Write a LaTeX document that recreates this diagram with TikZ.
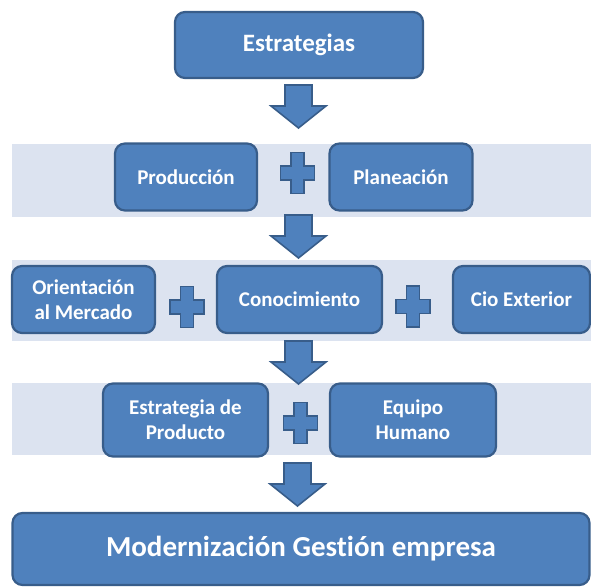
\documentclass[tikz,border=0pt]{standalone}
\usepackage{fontspec}
\setmainfont[Ligatures=NoCommon]{Carlito}
\definecolor{boxblue}{HTML}{4F81BD}
\definecolor{boxborder}{HTML}{385D8A}
\definecolor{bandfill}{HTML}{DCE3F0}
\tikzset{
  box/.style={rounded corners=10pt, fill=boxblue, draw=boxborder, line width=2.2pt,
    text=white, align=center, inner sep=0pt,
    font=\bfseries\fontsize{21}{25}\selectfont},
  band/.style={fill=bandfill, draw=none},
  blockshape/.style={fill=boxblue, draw=boxborder, line width=1.6pt, line join=miter},
  downarr/.pic={\path[blockshape] (-13.5,0) -- (13.5,0) -- (13.5,21) -- (27.5,21)
      -- (0,43) -- (-27.5,21) -- (-13.5,21) -- cycle;},
  plussign/.pic={\path[blockshape] (-6.5,-20.5) -- (6.5,-20.5) -- (6.5,-7) -- (17,-7)
      -- (17,7) -- (6.5,7) -- (6.5,20.5) -- (-6.5,20.5) -- (-6.5,7) -- (-17,7)
      -- (-17,-7) -- (-6.5,-7) -- cycle;}
}
\begin{document}
\begin{tikzpicture}[x=1pt,y=-1pt]
\useasboundingbox (0,0) rectangle (591,586);
% bands
\path[band] (12,144) rectangle (591,217);
\path[band] (12,260) rectangle (591,341);
\path[band] (12,383) rectangle (591,455);
% top
\node[box, minimum width=248pt, minimum height=66pt,
  font=\bfseries\fontsize{25}{30}\selectfont] (estr) at (299,45) {Estrategias};
\pic at (298.5,85) {downarr};
% row 1
\node[box, minimum width=142pt, minimum height=67pt] (prod) at (186,177) {Producción};
\pic at (297.5,173) {plussign};
\node[box, minimum width=143pt, minimum height=67pt] (plan) at (401,177) {Planeación};
\pic at (298.5,215) {downarr};
% row 2
\node[box, minimum width=143pt, minimum height=67pt] (orie) at (83.5,299.5) {Orientación\\al Mercado};
\pic at (187,307) {plussign};
\node[box, minimum width=165pt, minimum height=67pt] (cono) at (299.5,299.5) {Conocimiento};
\pic at (413,306.5) {plussign};
\node[box, minimum width=137pt, minimum height=67pt] (cio) at (521.5,299.5) {Cio Exterior};
\pic at (298.5,341) {downarr};
% row 3
\node[box, minimum width=165pt, minimum height=73pt] (estp) at (185.5,420) {Estrategia de\\Producto};
\pic at (300.5,423) {plussign};
\node[box, minimum width=166pt, minimum height=73pt] (equi) at (413,420) {Equipo\\Humano};
\pic at (297.5,463) {downarr};
% bottom
\node[box, minimum width=577pt, minimum height=72pt,
  font=\bfseries\fontsize{29}{34}\selectfont] (mode) at (301,549) {Modernización Gestión empresa};
\end{tikzpicture}
\end{document}
